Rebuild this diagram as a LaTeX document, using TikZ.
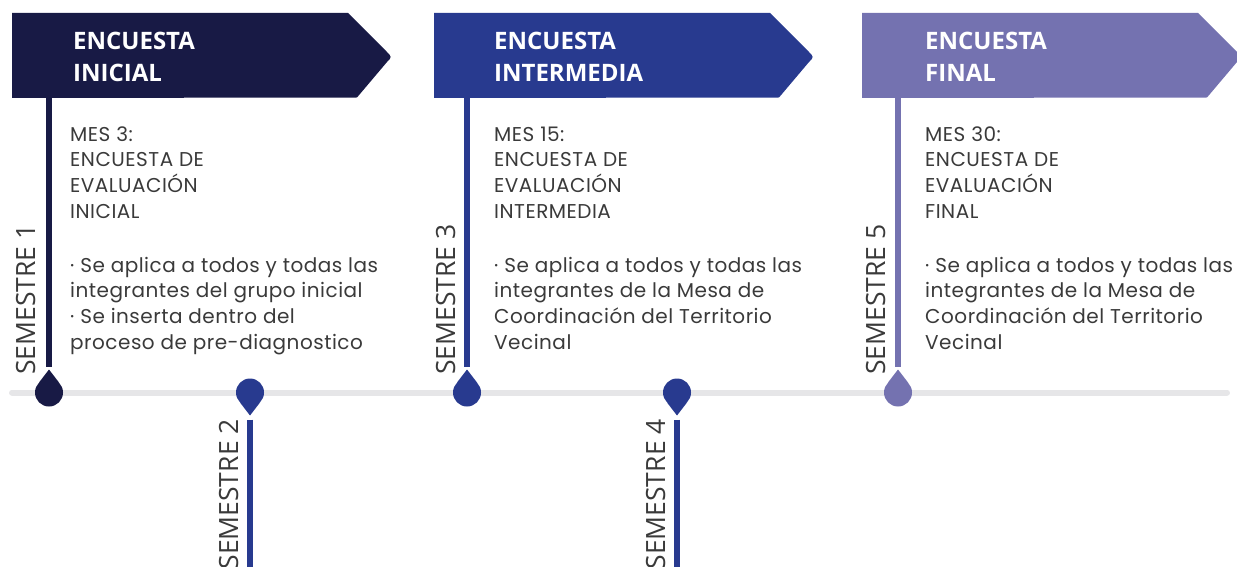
\documentclass[tikz,border=0pt]{standalone}
\usepackage{fontspec}
\setmainfont{Open Sans}
\newfontfamily\bodyfont[LetterSpace=2.5]{Poppins}
\newfontfamily\semfont{Open Sans}
\definecolor{navy}{HTML}{181A45}
\definecolor{royal}{HTML}{283A8F}
\definecolor{lav}{HTML}{7472B0}
\definecolor{tline}{HTML}{E6E6E8}
\definecolor{txt}{HTML}{3A3A3A}
\begin{document}
\begin{tikzpicture}[x=1pt,y=-1pt,
  title/.style={anchor=base west, text=white, font=\bfseries\fontsize{24}{32}\selectfont, align=left, inner sep=0pt},
  body/.style={anchor=base west, text=txt, font=\bodyfont\fontsize{20}{25.6}\selectfont, align=left, inner sep=0pt},
  semup/.style={rotate=90, anchor=base west, text=txt, font=\semfont\fontsize{26.5}{26.5}\selectfont, inner sep=0pt},
  semdown/.style={rotate=90, anchor=base east, text=txt, font=\semfont\fontsize{26.5}{26.5}\selectfont, inner sep=0pt},
  stem/.style={line width=6pt},
  tl/.style={line width=6pt, tline, line cap=round}
]
\useasboundingbox (0,0) rectangle (1237,567);
% timeline
\coordinate (tlA) at (12,392.5);
\coordinate (tlB) at (1227,392.5);
\draw[tl] (tlA) -- (tlB);

% banners
\newcommand{\banner}[2]{% x, color
  \fill[#2] (#1,13) -- (#1+336,13) -- (#1+374,51) .. controls (#1+380,57) .. (#1+375,62) -- (#1+345,97.5) -- (#1,98) -- cycle;
}
\banner{12}{navy}
\banner{434}{royal}
\banner{862}{lav}
\coordinate (b1) at (49,98);
\coordinate (b2) at (467,98);
\coordinate (b3) at (898,98);

\node[title] (t1) at (73,82) {ENCUESTA\\INICIAL};
\node[title] (t2) at (494,82) {ENCUESTA\\INTERMEDIA};
\node[title] (t3) at (925,82) {ENCUESTA\\FINAL};

% droplets
\newcommand{\dropup}[3]{% x, color, name
  \coordinate (#3) at (#1,392.5);
  \fill[#2] (#1,392.5) circle (14);
  \fill[#2] (#1-10,382.5) -- (#1,369.5) -- (#1+10,382.5) -- cycle;
}
\newcommand{\dropdown}[3]{%
  \coordinate (#3) at (#1,392.5);
  \fill[#2] (#1,392.5) circle (14);
  \fill[#2] (#1-10,402.5) -- (#1,415.5) -- (#1+10,402.5) -- cycle;
}
\dropup{49}{navy}{d1}
\dropdown{250}{royal}{d2}
\dropup{467}{royal}{d3}
\dropdown{677}{royal}{d4}
\dropup{898}{lav}{d5}

% stems
\draw[stem, navy] (b1) -- ([yshift=26]d1);
\draw[stem, royal] (b2) -- ([yshift=26]d3);
\draw[stem, lav] (b3) -- ([yshift=26]d5);
\coordinate (e2) at (250,567);
\coordinate (e4) at (677,567);
\draw[stem, royal] ([yshift=-27]d2) -- (e2);
\draw[stem, royal] ([yshift=-27]d4) -- (e4);

% semester labels
\node[semup] (s1) at (35,375) {SEMESTRE 1};
\node[semdown] (s2) at (238,419) {SEMESTRE 2};
\node[semup] (s3) at (455,375) {SEMESTRE 3};
\node[semdown] (s4) at (665,419) {SEMESTRE 4};
\node[semup] (s5) at (885,375) {SEMESTRE 5};

% body texts
\node[body] (h1) at (70,218) {MES 3:\\ENCUESTA DE\\EVALUACIÓN\\INICIAL};
\node[body] (p1) at (70,349) {· Se aplica a todos y todas las\\integrantes del grupo inicial\\· Se inserta dentro del\\proceso de pre-diagnostico};
\node[body] (h2) at (494,218) {MES 15:\\ENCUESTA DE\\EVALUACIÓN\\INTERMEDIA};
\node[body] (p2) at (494,349) {· Se aplica a todos y todas las\\integrantes de la Mesa de\\Coordinación del Territorio\\Vecinal};
\node[body] (h3) at (925,218) {MES 30:\\ENCUESTA DE\\EVALUACIÓN\\FINAL};
\node[body] (p3) at (925,349) {· Se aplica a todos y todas las\\integrantes de la Mesa de\\Coordinación del Territorio\\Vecinal};
\end{tikzpicture}
\end{document}
